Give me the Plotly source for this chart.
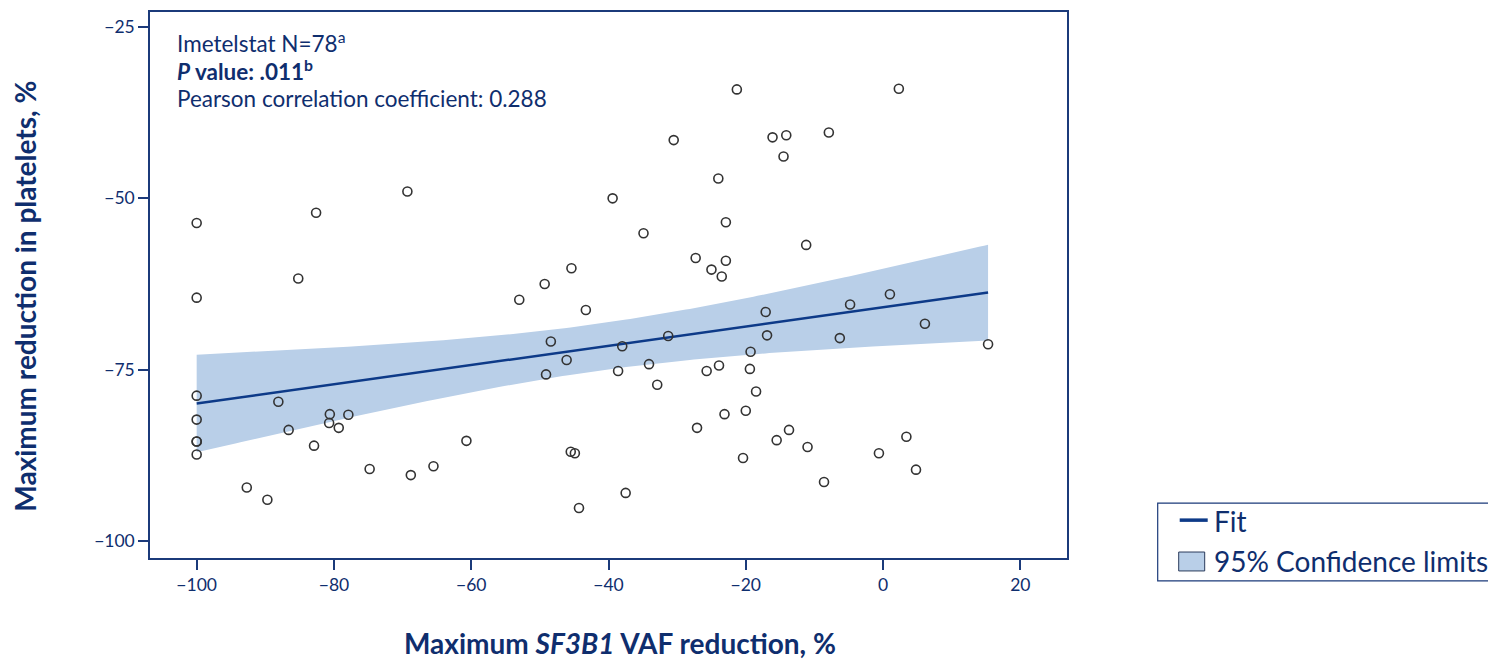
import numpy as np
import plotly.graph_objects as go

# Maximum SF3B1 VAF reduction (%) and maximum platelet reduction (%) per patient
vaf_reduction = [
    -100, -100, -100, -100, -100, -100, -100,
    -82.6, -85.2, -69.3, -88.1, -86.6, -80.6, -80.7, -77.9, -79.3, -82.9,
    -92.7, -89.7, -74.8, -68.8, -65.5, -60.7, -53.0, -49.3, -49.1, -48.4,
    -46.1, -45.4, -45.5, -44.9, -43.3, -44.3, -39.4, -38.6, -38.0, -37.5,
    -34.9, -34.1, -32.9, -31.3, -30.5, -27.3, -27.1, -25.7, -25.0, -24.0,
    -23.9, -23.5, -23.1, -22.9, -22.9, -21.3, -20.0, -20.4, -19.3, -19.4,
    -18.5, -17.1, -16.9, -16.1, -15.5, -14.1, -14.5, -13.7, -11.2, -11.0,
    -8.6, -7.9, -6.3, -4.8, -0.6, 1.0, 2.3, 3.4, 4.8, 6.1, 15.3,
]
platelet_reduction = [
    -53.6, -64.5, -78.8, -82.3, -85.5, -85.5, -87.4,
    -52.1, -61.7, -49.0, -79.7, -83.8, -81.5, -82.8, -81.6, -83.5, -86.1,
    -92.2, -94.0, -89.5, -90.4, -89.1, -85.4, -64.8, -62.5, -75.7, -70.9,
    -73.6, -60.2, -87.0, -87.2, -66.3, -95.2, -50.0, -75.2, -71.6, -93.0,
    -55.1, -74.2, -77.2, -70.1, -41.5, -58.7, -83.5, -75.2, -60.4, -47.1,
    -74.4, -61.4, -81.5, -53.5, -59.1, -34.1, -81.0, -87.9, -72.4, -74.9,
    -78.2, -66.6, -70.0, -41.1, -85.3, -40.8, -43.9, -83.8, -56.8, -86.3,
    -91.4, -40.4, -70.4, -65.5, -87.2, -64.0, -34.0, -84.8, -89.6, -68.3, -71.3,
]

x_ticks = [-100, -80, -60, -40, -20, 0, 20]
y_ticks = [-100, -75, -50, -25]

legend_labels = ["Fit", "95% Confidence limits"]

NAVY = "#0F2E6E"
AXIS = "#1B3A7A"
FIT = "#0D3A88"
BAND = "#B9CFE8"
FONT = "Lato"

# Ordinary least squares fit with 95% confidence limits for the mean
x = np.array(vaf_reduction, dtype=float)
y = np.array(platelet_reduction, dtype=float)
n = len(x)
slope, intercept = np.polyfit(x, y, 1)
resid = y - (intercept + slope * x)
s = np.sqrt(np.sum(resid ** 2) / (n - 2))
sxx = np.sum((x - x.mean()) ** 2)
t_crit = 1.9917  # t(0.975, df=76)
xs = np.linspace(x.min(), x.max(), 200)
fit = intercept + slope * xs
half = t_crit * s * np.sqrt(1.0 / n + (xs - x.mean()) ** 2 / sxx)
upper = fit + half
lower = fit - half

fig = go.Figure()

fig.add_trace(go.Scatter(
    x=np.concatenate([xs, xs[::-1]]),
    y=np.concatenate([upper, lower[::-1]]),
    fill="toself", fillcolor=BAND, line=dict(width=0),
    mode="lines", hoverinfo="skip", name=legend_labels[1], showlegend=False,
))
fig.add_trace(go.Scatter(
    x=xs, y=fit, mode="lines", line=dict(color=FIT, width=2.5),
    name=legend_labels[0], showlegend=False,
))
fig.add_trace(go.Scatter(
    x=vaf_reduction, y=platelet_reduction, mode="markers", showlegend=False,
    marker=dict(symbol="circle-open", size=9, color="#333333",
                line=dict(width=1.6)),
))

axis_common = dict(
    showline=True, linecolor=AXIS, linewidth=1.5, mirror=True,
    ticks="outside", ticklen=10, tickcolor=AXIS, tickwidth=1.5,
    showgrid=False, zeroline=False,
    tickfont=dict(family=FONT, size=17.5, color=NAVY),
)

fig.update_layout(
    width=1488, height=662,
    margin=dict(l=150, r=421, t=10, b=104),
    plot_bgcolor="white", paper_bgcolor="white",
    xaxis=dict(range=[-106.8, 26.8], tickvals=x_ticks, **axis_common),
    yaxis=dict(range=[-102.5, -22.8], tickvals=y_ticks, **axis_common),
    showlegend=False,
)


def py(pix):
    return (558 - pix) / 548


def px(pix):
    return (pix - 150.3) / 917


# Legend: frame, key symbols and labels
fig.add_shape(type="rect", xref="paper", yref="paper",
              x0=px(1158), x1=px(1495), y0=py(503), y1=py(581),
              line=dict(color=AXIS, width=1.2), fillcolor="white")
fig.add_shape(type="line", xref="paper", yref="paper",
              x0=px(1180), x1=px(1208), y0=py(520), y1=py(520),
              line=dict(color=FIT, width=3.5))
fig.add_shape(type="rect", xref="paper", yref="paper",
              x0=px(1179), x1=px(1205), y0=py(552), y1=py(571),
              line=dict(color="#2B3B5C", width=1), fillcolor=BAND)
for label, ypix in zip(legend_labels, [521, 561]):
    fig.add_annotation(text=label, xref="paper", yref="paper",
                       x=px(1212), y=py(ypix), xanchor="left", yanchor="middle",
                       showarrow=False,
                       font=dict(family=FONT, size=28, color=NAVY))

stat_lines = [
    ("Imetelstat N=78<sup>a</sup>", 40),
    ("<b><i>P</i> value: .011<sup>b</sup></b>", 68),
    ("Pearson correlation coefficient: 0.288", 97),
]
for txt, ypix in stat_lines:
    fig.add_annotation(text=txt, xref="paper", yref="paper", x=px(175), y=py(ypix),
                       xanchor="left", yanchor="middle", showarrow=False,
                       font=dict(family=FONT, size=22.5, color=NAVY))

fig.add_annotation(text="<b>Maximum <i>SF3B1</i> VAF reduction, %</b>",
                   xref="paper", yref="paper", x=px(620), y=py(661),
                   xanchor="center", yanchor="bottom", showarrow=False,
                   borderpad=0,
                   font=dict(family=FONT, size=28, color=NAVY))
fig.add_annotation(text="<b>Maximum reduction in platelets, %</b>",
                   xref="paper", yref="paper", x=px(25), y=py(295),
                   xanchor="center", yanchor="middle", showarrow=False,
                   textangle=-90,
                   font=dict(family=FONT, size=28, color=NAVY))

fig.write_html("out.html")
